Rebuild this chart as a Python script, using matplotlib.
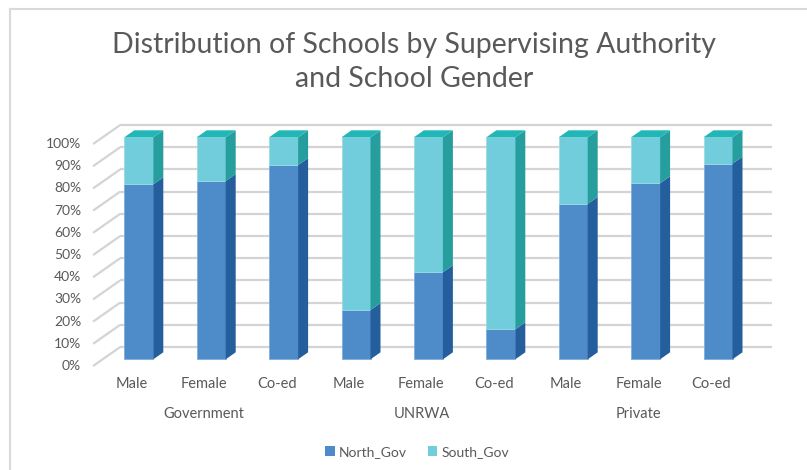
import matplotlib
matplotlib.use('Agg')
import matplotlib.pyplot as plt
from matplotlib.patches import Polygon, Patch
from matplotlib.lines import Line2D

# ---------------- data ----------------
groups = ['Government', 'UNRWA', 'Private']
genders = ['Male', 'Female', 'Co-ed']
north_gov = [78.8, 80.3, 87.5, 22.2, 39.2, 13.5, 70.0, 79.3, 88.1]
south_gov = [21.2, 19.7, 12.5, 77.8, 60.8, 86.5, 30.0, 20.7, 11.9]
y_ticks = [0, 10, 20, 30, 40, 50, 60, 70, 80, 90, 100]
y_tick_labels = ['0%', '10%', '20%', '30%', '40%', '50%', '60%', '70%', '80%', '90%', '100%']
series_names = ['North_Gov', 'South_Gov']
title = 'Distribution of Schools by Supervising Authority\nand School Gender'

# ---------------- style ----------------
FONT = 'Lato'
TXT = '#595959'
GRID = '#d4d4d4'
N_FRONT, N_SIDE = '#4e8bc9', '#255e9c'
S_FRONT, S_SIDE, S_TOP = '#71cddb', '#279e9e', '#21b7b7'

W, H, DPI = 807, 470, 100
fig = plt.figure(figsize=(W / DPI, H / DPI), dpi=DPI)
ax = fig.add_axes([0, 0, 1, 1])
ax.set_axis_off()

# layout (pixels, measured from bottom-left)
x0_px, step_px = 138.8, 72.4          # first bar centre, bar spacing
y0_px, y100_px = H - 359.3, H - 137.3  # front plane 0% and 100%
sx = step_px
sy = (y100_px - y0_px) / 100.0
ax.set_xlim(-x0_px / sx, (W - x0_px) / sx)
ax.set_ylim(-y0_px / sy, (H - y0_px) / sy)

def px(dx, dy):
    return dx / sx, dy / sy

bw = 29.0 / sx                    # bar front width
sdx, sdy = px(10, 7)              # bar depth
fdx, fdy = px(-9.5, -6.7)         # floor front offset
bdx, bdy = px(17.6, 12.3)         # back wall offset
xl, xr = -0.5, len(north_gov) - 0.5

# gridlines (back wall + left wall)
for v in y_ticks:
    ax.plot([xl + bdx, xr + bdx], [v + bdy, v + bdy], color=GRID, lw=1.6, zorder=1,
            solid_capstyle='butt')
    ax.plot([xl + fdx, xl + bdx], [v + fdy, v + bdy], color=GRID, lw=1.6, zorder=1,
            solid_capstyle='butt')

# bars
xs = list(range(len(north_gov)))
ax.bar(xs, north_gov, width=bw, color=N_FRONT, edgecolor='#7eaedd', linewidth=0.6, zorder=3)
ax.bar(xs, south_gov, width=bw, bottom=north_gov, color=S_FRONT, edgecolor='#9adbe5',
       linewidth=0.6, zorder=3)
for i, (n, s) in enumerate(zip(north_gov, south_gov)):
    xr_ = i + bw / 2
    xl_ = i - bw / 2
    for (y_lo, y_hi, col) in [(0, n, N_SIDE), (n, n + s, S_SIDE)]:
        ax.add_patch(Polygon([(xr_, y_lo), (xr_ + sdx, y_lo + sdy), (xr_ + sdx, y_hi + sdy),
                              (xr_, y_hi)], closed=True, facecolor=col, edgecolor='none',
                             zorder=3))
    top = n + s
    ax.add_patch(Polygon([(xl_, top), (xr_, top), (xr_ + sdx, top + sdy), (xl_ + sdx, top + sdy)],
                         closed=True, facecolor=S_TOP, edgecolor='none', zorder=3))

# y tick labels
lx, ly = px(-12, 0)
for v, lab in zip(y_ticks, y_tick_labels):
    ax.text(xl + fdx + lx, v + fdy, lab, ha='right', va='center', fontsize=10,
            color=TXT, family=FONT)

# category labels
cdx, _ = px(-7, 0)
_, cdy = px(0, -18)
_, gdy = px(0, -48)
for i in xs:
    ax.text(i + cdx, fdy + cdy, genders[i % 3], ha='center', va='center', fontsize=10.5,
            color=TXT, family=FONT)
for g, name in enumerate(groups):
    ax.text(g * 3 + 1 + cdx, fdy + gdy, name, ha='center', va='center', fontsize=10.5,
            color=TXT, family=FONT)

# title
fig.text(414 / W, 1 - 62 / H, title, ha='center', va='center', fontsize=20.5,
         color=TXT, family=FONT, linespacing=1.38)

# legend
handles = [Patch(facecolor=N_FRONT, edgecolor='none'), Patch(facecolor=S_FRONT, edgecolor='none')]
leg = fig.legend(handles, series_names, loc='center', bbox_to_anchor=(417 / W, 18 / H), ncol=2,
                 frameon=False, handlelength=0.7, handleheight=0.7, handletextpad=0.3,
                 columnspacing=1.5, prop={'family': FONT, 'size': 10})
for t in leg.get_texts():
    t.set_color(TXT)

# chart border (left and top)
fig.add_artist(Line2D([10 / W, 10 / W], [0, 1 - 9 / H], color='#d9d9d9', lw=1.5))
fig.add_artist(Line2D([10 / W, 1], [1 - 9 / H, 1 - 9 / H], color='#d9d9d9', lw=1.5))

fig.savefig('out.png', dpi=DPI)
